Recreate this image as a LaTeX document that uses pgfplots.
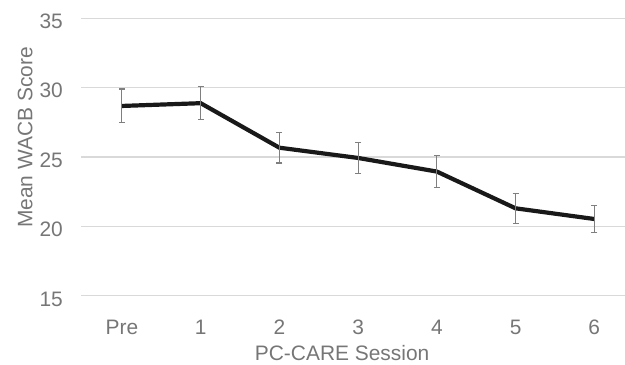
\documentclass[border=0pt]{standalone}
\usepackage{fontspec}
\setmainfont{Liberation Sans}
\usepackage{pgfplots}
\pgfplotsset{compat=1.18}
\definecolor{txt}{HTML}{767676}
\definecolor{gridc}{HTML}{D9D9D9}
\definecolor{errc}{HTML}{7F7F7F}
\begin{document}
\begin{tikzpicture}
\useasboundingbox (0,0) rectangle (625bp,365bp);
\begin{axis}[
  at={(81bp,69.3bp)}, anchor=south west,
  scale only axis, width=544bp, height=277.4bp,
  xmin=-0.52, xmax=6.39, ymin=15, ymax=35,
  clip=false,
  axis line style={draw=none},
  major tick length=0pt,
  ymajorgrids,
  grid style={gridc, line width=1.2bp},
  xtick={0,1,2,3,4,5,6},
  xticklabels={Pre,1,2,3,4,5,6},
  ytick={15,20,25,30,35},
  /pgf/number format/assume math mode=true,
  tick label style={font=\fontsize{21}{24}\selectfont, text=txt, inner sep=0pt},
  xticklabel style={anchor=base, yshift=-38.3bp},
  yticklabel style={anchor=base east, yshift=-10.3bp, xshift=-18bp},
  xlabel={PC-CARE Session},
  ylabel={Mean WACB Score},
  label style={font=\fontsize{21}{24}\selectfont, text=txt, inner sep=0pt},
  xlabel style={at={(axis description cs:0.48,-0.2318)}, anchor=base},
  ylabel style={at={(axis description cs:-0.0892,0.5703)}, anchor=base},
]
\addplot[color=black!90, line width=4.2bp, mark=none,
  error bars/.cd, y dir=both, y explicit,
  error bar style={errc, line width=1.1bp},
  error mark options={rotate=90, mark size=3bp, errc, line width=1.1bp}]
  table[x=x, y=y, y error=e] {
x y e
0 28.68 1.22
1 28.88 1.20
2 25.67 1.10
3 24.93 1.11
4 23.95 1.13
5 21.30 1.08
6 20.53 0.96
};
\end{axis}
\end{tikzpicture}
\end{document}
